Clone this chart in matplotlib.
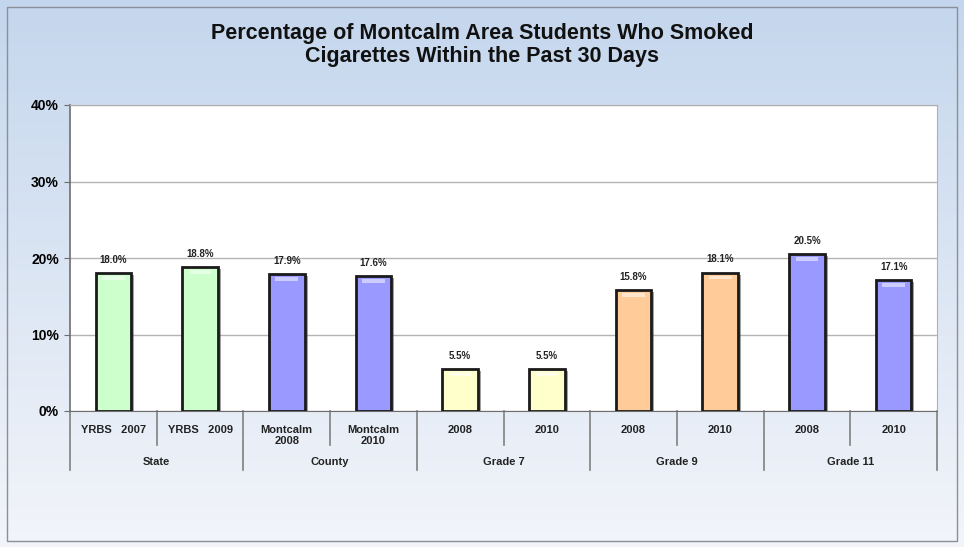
import numpy as np
import matplotlib
matplotlib.use("Agg")
import matplotlib.pyplot as plt
from matplotlib.transforms import blended_transform_factory, offset_copy
from matplotlib.patches import Rectangle

title = "Percentage of Montcalm Area Students Who Smoked\nCigarettes Within the Past 30 Days"
categories = ["YRBS   2007", "YRBS   2009", "Montcalm\n2008", "Montcalm\n2010",
              "2008", "2010", "2008", "2010", "2008", "2010"]
groups = ["State", "County", "Grade 7", "Grade 9", "Grade 11"]
group_sizes = [2, 2, 2, 2, 2]
values = [18.0, 18.8, 17.9, 17.6, 5.5, 5.5, 15.8, 18.1, 20.5, 17.1]
colors = ["#ccffcc", "#ccffcc", "#9999ff", "#9999ff", "#ffffcc", "#ffffcc",
          "#ffcc99", "#ffcc99", "#9999ff", "#9999ff"]
yticks = [0, 10, 20, 30, 40]

plt.rcParams['font.family'] = ['Liberation Sans', 'DejaVu Sans']

W, H = 964, 547
fig = plt.figure(figsize=(W / 100, H / 100), dpi=100)

# background gradient
bg = fig.add_axes([0, 0, 1, 1], zorder=0)
top = np.array([0.77, 0.84, 0.93])
bot = np.array([0.95, 0.96, 0.98])
t = np.linspace(0, 1, 256)[:, None]
grad = top[None, :] * (1 - t) + bot[None, :] * t
bg.imshow(grad[:, None, :], aspect='auto', extent=[0, 1, 0, 1], origin='upper')
bg.set_xlim(0, 1); bg.set_ylim(0, 1)
bg.add_patch(Rectangle((7 / W, 1 - 541 / H), (957 - 7) / W, (541 - 7) / H,
                       fill=False, edgecolor="#8a8f99", lw=1.0))
bg.axis('off')

fig.text(0.5, 1 - 45 / H, title, ha='center', va='center', fontsize=15.5,
         fontweight='bold', color='#111111', linespacing=1.12)

L, R, T, B = 70, 937, 105, 411
ax = fig.add_axes([L / W, 1 - B / H, (R - L) / W, (B - T) / H], zorder=1)
ax.set_facecolor('white')
x = np.arange(len(values))
ax.set_xlim(-0.5, len(values) - 0.5)
ax.set_ylim(0, 40)
ax.set_yticks(yticks)
ax.set_yticklabels([f"{v}%" for v in yticks], fontsize=10, fontweight='bold')
ax.yaxis.grid(True, color='#b4b4b4', lw=1.0)
ax.set_axisbelow(True)
for s in ['top', 'right']:
    ax.spines[s].set_color('#b0b0b0')
ax.spines['left'].set_color('#6e6e6e')
ax.spines['bottom'].set_color('#6e6e6e')
ax.spines['left'].set_linewidth(1.2)
ax.tick_params(axis='y', length=4, color='#6e6e6e', pad=4)
ax.set_xticks([])

bw = 0.41
# shadows
shadow_tr = offset_copy(ax.transData, fig=fig, x=3, y=-2, units='dots')
ax.bar(x, values, width=bw, color='#444444', alpha=0.5, transform=shadow_tr, zorder=2)
bars = ax.bar(x, values, width=bw, color=colors, edgecolor='#1a1a1a', lw=2.0, zorder=3)
# highlight stripe near top
for xi, v, c in zip(x, values, colors):
    ax.add_patch(Rectangle((xi - bw * 0.32, v - 0.9), bw * 0.64, 0.5,
                           facecolor='white', alpha=0.5, lw=0, zorder=4))
    ax.annotate(f"{v:.1f}%", (xi, v), xytext=(0, 6), textcoords='offset points',
                ha='center', va='bottom', fontsize=7, fontweight='bold', color='#222222')

# category axis lines
trans = blended_transform_factory(ax.transData, ax.transAxes)
ah = B - T
inner = 34 / ah
outer = 59 / ah
bounds = np.cumsum([0] + group_sizes)
for i in range(len(values) + 1):
    xb = i - 0.5
    ln = outer if i in bounds else inner
    ax.plot([xb, xb], [0, -ln], transform=trans, color='#808080', lw=1.2, clip_on=False)
for xi, lab in zip(x, categories):
    ax.text(xi, -14 / ah, lab, transform=trans, ha='center', va='top', fontsize=8,
            fontweight='bold', color='#222222', linespacing=1.15)
for gi, g in enumerate(groups):
    xc = (bounds[gi] + bounds[gi + 1] - 1) / 2
    ax.text(xc, -51 / ah, g, transform=trans, ha='center', va='center', fontsize=8,
            fontweight='bold', color='#222222')

fig.savefig("out.png", dpi=100)
